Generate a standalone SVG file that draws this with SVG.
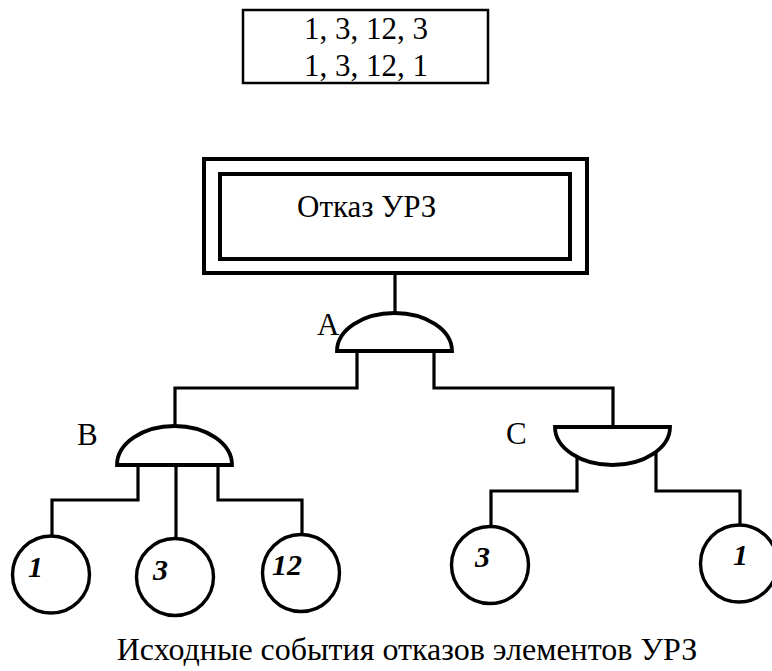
<svg xmlns="http://www.w3.org/2000/svg" width="772" height="671" viewBox="0 0 772 671">
  <style>
    .txt { font-family: "Liberation Serif", "Times New Roman", serif; font-size: 31px; fill: #000; }
    .caption { font-family: "Liberation Serif", "Times New Roman", serif; font-size: 32px; fill: #000; }
    .num { font-family: "Liberation Serif", "Times New Roman", serif; font-size: 30px; font-weight: bold; font-style: italic; fill: #000; }
    .line { fill: none; stroke: #000; stroke-width: 3.2; stroke-linejoin: miter; }
    .gate { fill: #fff; stroke: #000; stroke-width: 3.8; }
    .event { fill: #fff; stroke: #000; stroke-width: 3.4; }
  </style>
  <rect width="772" height="671" fill="#fff"/>

  <!-- minimal cut sets -->
  <g id="cutsets">
    <rect x="243" y="10" width="245" height="73" fill="#fff" stroke="#000" stroke-width="2.5"/>
    <text class="txt" x="366" y="39" text-anchor="middle">1, 3, 12, 3</text>
    <text class="txt" x="366" y="76" text-anchor="middle">1, 3, 12, 1</text>
  </g>

  <!-- connectors -->
  <g id="connectors" class="line">
    <path d="M395,273 V313"/>
    <path d="M357,351 V388 H175 V426"/>
    <path d="M434,351 V388 H613 V427"/>
    <path d="M138,465 V500 H52 V536"/>
    <path d="M176,465 V538"/>
    <path d="M218,465 V500 H302 V534"/>
    <path d="M577,455 V491 H491 V527"/>
    <path d="M656,452 V491 H740 V525"/>
  </g>

  <!-- top event -->
  <g id="top-event">
    <rect x="204" y="159" width="383" height="114" fill="#fff" stroke="#000" stroke-width="4"/>
    <rect x="220" y="174" width="350" height="85" fill="#fff" stroke="#000" stroke-width="4"/>
    <text class="txt" x="297" y="217">Отказ УРЗ</text>
  </g>

  <!-- gates -->
  <g id="gate-A">
    <path class="gate" d="M337,351 A57.5,38 0 0 1 452,351 Z"/>
    <text class="txt" x="317" y="335">А</text>
  </g>
  <g id="gate-B">
    <path class="gate" d="M117,465 A57.5,39 0 0 1 232,465 Z"/>
    <text class="txt" x="77" y="445">В</text>
  </g>
  <g id="gate-C">
    <path class="gate" d="M555,427 A57.5,38 0 0 0 670,427 Z"/>
    <text class="txt" x="506" y="444">С</text>
  </g>

  <!-- basic events -->
  <g id="event-B1">
    <circle class="event" cx="51" cy="574.5" r="38.5"/>
    <text class="num" x="28" y="577">1</text>
  </g>
  <g id="event-B3">
    <circle class="event" cx="175" cy="577" r="38.5"/>
    <text class="num" x="153" y="580">3</text>
  </g>
  <g id="event-B12">
    <circle class="event" cx="301" cy="573" r="38.5"/>
    <text class="num" x="272" y="575">12</text>
  </g>
  <g id="event-C3">
    <circle class="event" cx="490" cy="565" r="38.5"/>
    <text class="num" x="475" y="567">3</text>
  </g>
  <g id="event-C1">
    <circle class="event" cx="739" cy="563.5" r="38.5"/>
    <text class="num" x="733" y="565">1</text>
  </g>

  <text class="caption" x="407" y="660" text-anchor="middle">Исходные события отказов элементов УРЗ</text>
</svg>
